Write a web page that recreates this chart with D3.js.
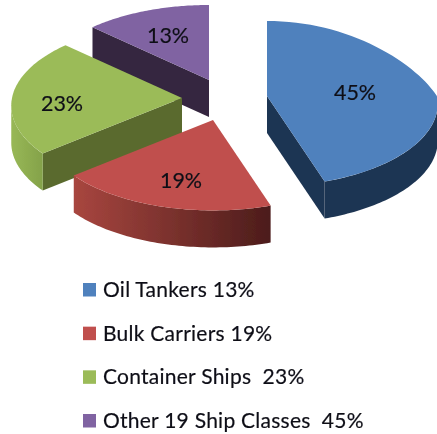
<!DOCTYPE html>
<html><head><meta charset="utf-8">
<script src="https://cdn.jsdelivr.net/npm/d3@7"></script>
<style>html,body{margin:0;padding:0;background:#fff}svg{display:block}</style></head>
<body><svg id="c" width="437" height="434"></svg>
<script>
const sliceLabels = ["45%", "19%", "23%", "13%"];
const sliceValues = [45, 19, 23, 13];
const topColors = ["#4F81BD", "#C0504D", "#9BBB59", "#8064A2"];
const wallColors = ["#1F3552", "#5A1F1E", "#5A6B2F", "#35263F"];
const arcWallStops = [["#1F3552", "#1F3552"], ["#A8463F", "#4C1C1B"], ["#98B856", "#84A24A"], ["#35263F", "#35263F"]];
const legendLabels = ["Oil Tankers 13%", "Bulk Carriers 19%", "Container Ships  23%", "Other 19 Ship Classes  45%"];
const legendColors = ["#4F81BD", "#C0504D", "#9BBB59", "#8064A2"];

const apexes = [[267, 96], [213, 120], [182, 98], [209, 80]];
const labelPos = [[355, 100], [181, 188], [62, 111], [168, 43]];
const depth = 37, rx = 170, ry = 82, persp = 0.093;
const svg = d3.select("#c");
const defs = svg.append("defs");
defs.append("filter").attr("id", "soft").attr("x", "-5%").attr("y", "-5%").attr("width", "110%").attr("height", "110%")
  .append("feGaussianBlur").attr("stdDeviation", 0.45);
const root = svg.append("g").attr("filter", "url(#soft)");

const pie = d3.pie().sort(null).startAngle(0).endAngle(2 * Math.PI);
const arcs = pie(sliceValues);
const line = d3.line();
const project = (a, t, dy = 0) => {
  const c = Math.cos(t), s = Math.sin(t);
  const den = 1 + persp * c;
  // the far right quadrant of the source's pie is flatter than a true ellipse
  const cy = (s > 0 && c > 0) ? Math.pow(c, 1.4) : c;
  return [a[0] + rx * s / den, a[1] - ry * cy / den + dy];
};
const arcPts = (a, t0, t1, dy = 0) => d3.range(0, 61).map(i => project(a, t0 + (t1 - t0) * i / 60, dy));
const silL = Math.PI - Math.acos(persp), silR = Math.PI + Math.acos(persp);

const order = [3, 2, 0, 1];
const textAttrs = sel => sel.attr("font-family", "Lato, 'Open Sans', sans-serif")
  .attr("stroke", "#15151c").attr("stroke-width", 0.2).attr("fill", "#101018");
order.forEach(i => {
  const d = arcs[i], a = apexes[i];
  const g = root.append("g");
  if (i !== 1) {
    const p = project(a, i === 0 ? d.endAngle : d.startAngle);
    g.append("path").attr("d", line([a, p, [p[0], p[1] + depth], [a[0], a[1] + depth]]) + "Z").attr("fill", wallColors[i]);
  }
  const t0 = Math.max(d.startAngle, silL), t1 = Math.min(d.endAngle, silR);
  if (t1 > t0) {
    const top = arcPts(a, t0, t1), bot = arcPts(a, t0, t1, depth).reverse();
    const xs = top.map(q => q[0]);
    const gid = "w" + i;
    const lg = defs.append("linearGradient").attr("id", gid).attr("gradientUnits", "userSpaceOnUse")
      .attr("x1", d3.min(xs)).attr("x2", d3.max(xs)).attr("y1", 0).attr("y2", 0);
    lg.append("stop").attr("offset", 0).attr("stop-color", arcWallStops[i][0]);
    lg.append("stop").attr("offset", 1).attr("stop-color", arcWallStops[i][1]);
    g.append("path").attr("d", line(top.concat(bot)) + "Z").attr("fill", `url(#${gid})`);
  }
  g.append("path").attr("d", line([a].concat(arcPts(a, d.startAngle, d.endAngle))) + "Z").attr("fill", topColors[i]);
  g.append("text").attr("x", labelPos[i][0]).attr("y", labelPos[i][1]).attr("text-anchor", "middle")
    .attr("font-size", 21.5).call(textAttrs).text(sliceLabels[i]);
});

const y = d3.scalePoint().domain(d3.range(legendLabels.length)).range([297, 428]);
const leg = root.selectAll("g.leg").data(legendLabels).join("g").attr("class", "leg");
leg.append("rect").attr("x", 83).attr("y", (_, i) => y(i) - 14).attr("width", 13).attr("height", 13.5)
  .attr("fill", (_, i) => legendColors[i]);
leg.append("text").attr("x", 103).attr("y", (_, i) => y(i)).style("white-space", "pre")
  .attr("font-size", 21).attr("letter-spacing", 0.25).call(textAttrs).text(d => d);
</script></body></html>
